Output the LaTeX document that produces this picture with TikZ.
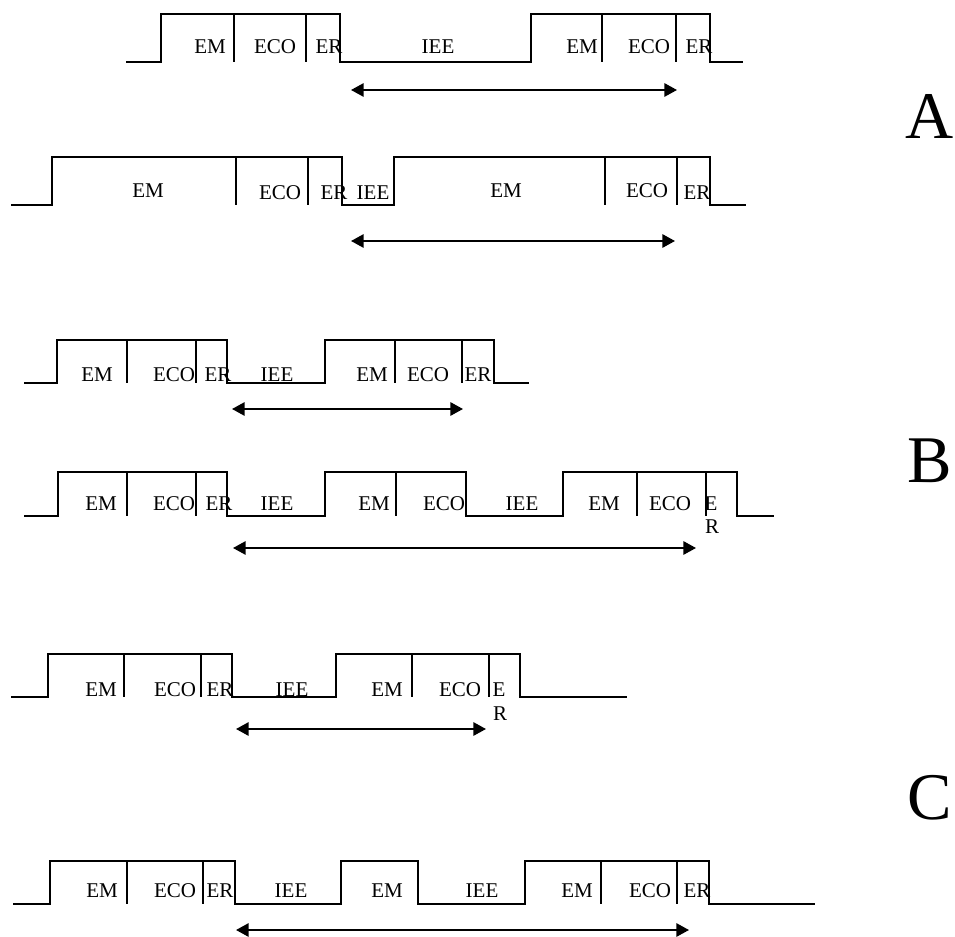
\documentclass[tikz,border=0pt]{standalone}
\usepackage{fontspec}
\setmainfont{Liberation Serif}
\usetikzlibrary{arrows.meta}
\tikzset{
  wave/.style={line width=1.25pt, line join=miter, line cap=rect},
  septhin/.style={line width=1.15pt},
  septhick/.style={line width=1.8pt},
  lowbold/.style={line width=2.2pt},
  lbl/.style={font=\fontsize{15.75}{17.6}\selectfont, inner sep=0pt, anchor=base},
  big/.style={font=\fontsize{50}{50}\selectfont, inner sep=0pt, anchor=base},
  period/.style={{Triangle[length=9.5pt,width=10pt]}-{Triangle[length=9.5pt,width=10pt]}, line width=1.5pt}
}
\begin{document}
\begin{tikzpicture}[x=0.75pt, y=-0.75pt]
\useasboundingbox (0,0) rectangle (955,937);
\fill[white] (0,0) rectangle (955,937);

% ---------------- A, first trace
\draw[wave] (127,62) -- (161,62) -- (161,14) -- (340,14) -- (340,62) -- (531,62)
  -- (531,14) -- (710,14) -- (710,62) -- (742,62);
\draw[septhick] (234,14) -- (234,62);
\draw[septhin]  (306,14) -- (306,62);
\draw[septhick] (602,14) -- (602,62);
\draw[septhin]  (676,14) -- (676,62);
\node[lbl] (a1em)  at (210,54) {EM};
\node[lbl] (a1eco) at (275,54) {ECO};
\node[lbl] (a1er)  at (329,54) {ER};
\node[lbl] (a1iee) at (438,54) {IEE};
\node[lbl] (a1em2) at (582,54) {EM};
\node[lbl] (a1eco2) at (649,54) {ECO};
\node[lbl] (a1er2) at (699,54) {ER};
\coordinate (a1l) at (351,90);
\coordinate (a1r) at (677,90);
\draw[period] (a1l) -- (a1r);

% ---------------- A, second trace
\draw[wave] (12,205) -- (52,205) -- (52,157) -- (342,157) -- (342,205) -- (394,205)
  -- (394,157) -- (710,157) -- (710,205) -- (745,205);
\draw[septhick] (236,157) -- (236,205);
\draw[septhin]  (308,157) -- (308,205);
\draw[septhin]  (605,157) -- (605,205);
\draw[septhin]  (677,157) -- (677,205);
\node[lbl] (a2em)  at (148,198) {EM};
\node[lbl] (a2eco) at (280,200) {ECO};
\node[lbl] (a2er)  at (334,200) {ER};
\node[lbl] (a2iee) at (373,200) {IEE};
\node[lbl] (a2em2) at (506,198) {EM};
\node[lbl] (a2eco2) at (647,198) {ECO};
\node[lbl] (a2er2) at (697,200) {ER};
\coordinate (a2l) at (351,241);
\coordinate (a2r) at (675,241);
\draw[period] (a2l) -- (a2r);

\node[big] (labA) at (930,139) {A};

% ---------------- B, first trace
\draw[wave] (25,383) -- (57,383) -- (57,340) -- (227,340) -- (227,383) -- (325,383)
  -- (325,340) -- (494,340) -- (494,383) -- (528,383);
\draw[septhick] (127,340) -- (127,383);
\draw[septhin]  (196,340) -- (196,383);
\draw[septhin]  (395,340) -- (395,383);
\draw[septhick] (462,340) -- (462,383);
\node[lbl] (b1em)  at (97,381) {EM};
\node[lbl] (b1eco) at (174,381) {ECO};
\node[lbl] (b1er)  at (218,381) {ER};
\node[lbl] (b1iee) at (277,381) {IEE};
\node[lbl] (b1em2) at (372,381) {EM};
\node[lbl] (b1eco2) at (428,381) {ECO};
\node[lbl] (b1er2) at (478,381) {ER};
\coordinate (b1l) at (232,409);
\coordinate (b1r) at (463,409);
\draw[period] (b1l) -- (b1r);

% ---------------- B, second trace
\draw[wave] (25,516) -- (58,516) -- (58,472) -- (227,472) -- (227,516) -- (325,516)
  -- (325,472) -- (466,472) -- (466,516) -- (563,516)
  -- (563,472) -- (737,472) -- (737,516) -- (773,516);
\draw[septhin] (127,472) -- (127,516);
\draw[septhin] (196,472) -- (196,516);
\draw[septhin] (396,472) -- (396,516);
\draw[septhin] (637,472) -- (637,516);
\draw[septhin] (706,472) -- (706,516);
\node[lbl] (b2em)  at (101,510) {EM};
\node[lbl] (b2eco) at (174,510) {ECO};
\node[lbl] (b2er)  at (219,510) {ER};
\node[lbl] (b2iee) at (277,510) {IEE};
\node[lbl] (b2em2) at (374,510) {EM};
\node[lbl] (b2eco2) at (444,510) {ECO};
\node[lbl] (b2iee2) at (522,510) {IEE};
\node[lbl] (b2em3) at (604,510) {EM};
\node[lbl] (b2eco3) at (670,510) {ECO};
\node[lbl] (b2e) at (711,510) {E};
\node[lbl] (b2r) at (712,533) {R};
\coordinate (b2l) at (233,548);
\coordinate (b2rr) at (696,548);
\draw[period] (b2l) -- (b2rr);

\node[big] (labB) at (930,482) {B};

% ---------------- C, first trace
\draw[wave] (12,697) -- (48,697) -- (48,654) -- (232,654) -- (232,697) -- (336,697)
  -- (336,654) -- (520,654) -- (520,697) -- (626,697);
\draw[lowbold] (302,697) -- (336,697);
\draw[septhick] (124,654) -- (124,697);
\draw[septhin]  (201,654) -- (201,697);
\draw[septhick] (412,654) -- (412,697);
\draw[septhin]  (489,654) -- (489,697);
\node[lbl] (c1em)  at (101,696) {EM};
\node[lbl] (c1eco) at (175,696) {ECO};
\node[lbl] (c1er)  at (220,696) {ER};
\node[lbl] (c1iee) at (292,696) {IEE};
\node[lbl] (c1em2) at (387,696) {EM};
\node[lbl] (c1eco2) at (460,696) {ECO};
\node[lbl] (c1e) at (499,696) {E};
\node[lbl] (c1r) at (500,720) {R};
\coordinate (c1l) at (236,729);
\coordinate (c1rr) at (486,729);
\draw[period] (c1l) -- (c1rr);

\node[big] (labC) at (930,819) {C};

% ---------------- C, second trace
\draw[wave] (14,904) -- (50,904) -- (50,861) -- (235,861) -- (235,904) -- (341,904)
  -- (341,861) -- (418,861) -- (418,904) -- (525,904)
  -- (525,861) -- (709,861) -- (709,904) -- (814,904);
\draw[lowbold] (488,904) -- (525,904);
\draw[septhick] (127,861) -- (127,904);
\draw[septhin]  (203,861) -- (203,904);
\draw[septhick] (601,861) -- (601,904);
\draw[septhin]  (677,861) -- (677,904);
\node[lbl] (c2em)  at (102,897) {EM};
\node[lbl] (c2eco) at (175,897) {ECO};
\node[lbl] (c2er)  at (220,897) {ER};
\node[lbl] (c2iee) at (291,897) {IEE};
\node[lbl] (c2em2) at (387,897) {EM};
\node[lbl] (c2iee2) at (482,897) {IEE};
\node[lbl] (c2em3) at (577,897) {EM};
\node[lbl] (c2eco2) at (650,897) {ECO};
\node[lbl] (c2er2) at (697,897) {ER};
\coordinate (c2l) at (236,930);
\coordinate (c2rr) at (689,930);
\draw[period] (c2l) -- (c2rr);
\end{tikzpicture}
\end{document}
